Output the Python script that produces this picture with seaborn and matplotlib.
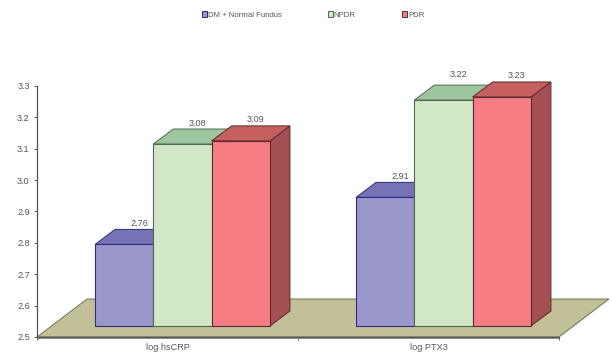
import matplotlib
matplotlib.use("Agg")
import matplotlib.pyplot as plt
from matplotlib.patches import Polygon
import pandas as pd
import seaborn as sns

categories = ["log hsCRP", "log PTX3"]
groups = ["DM + Normal Fundus", "NPDR", "PDR"]
hscrp_values = [2.76, 3.08, 3.09]
ptx3_values = [2.91, 3.22, 3.23]
y_ticks = [2.5, 2.6, 2.7, 2.8, 2.9, 3.0, 3.1, 3.2, 3.3]

front_colors = ["#9A97CB", "#D2E7C6", "#F57D83"]
top_colors = ["#7572B6", "#9DC59E", "#C6605F"]
side_colors = ["#5E5C96", "#7FA07F", "#A35052"]
edge_colors = ["#2C2C7C", "#4C6A4C", "#5C2A2C"]
floor_color = "#C2C096"
floor_edge = "#6F6E55"
text_color = "#555555"

W, H = 612, 357
DPI = 100
sns.set_theme(style="white")
plt.rcParams["font.family"] = ["Liberation Sans", "DejaVu Sans"]

frame = pd.DataFrame({
    "marker": categories[0:1] * 3 + categories[1:2] * 3,
    "group": groups * 2,
    "value": hscrp_values + ptx3_values,
})

fig = plt.figure(figsize=(W / DPI, H / DPI), dpi=DPI, facecolor="white")


def box(left, top, right, bottom):
    return [left / W, 1 - bottom / H, (right - left) / W, (bottom - top) / H]


# Value axis and floor plane
base = fig.add_axes(box(37, 86, 559, 337))
base.set_xlim(-0.5, 1.5)
base.set_ylim(y_ticks[0], y_ticks[-1])
base.set_facecolor("none")
for name in ("top", "right"):
    base.spines[name].set_visible(False)
for name in ("left", "bottom"):
    base.spines[name].set_color("#555555")
    base.spines[name].set_linewidth(0.9)
base.set_yticks(y_ticks)
base.set_yticklabels([f"{t:.1f}" for t in y_ticks], fontsize=6.6, color=text_color)
base.set_xticks([-0.5, 0.5, 1.5], minor=False)
base.set_xticklabels([])
base.tick_params(axis="both", length=2.2, width=0.7, color="#555555", pad=3,
                 left=True, bottom=True)
for pos, label in enumerate(categories):
    base.annotate(label, (pos, y_ticks[0]), xytext=(0, -10), textcoords="offset pixels",
                  ha="center", va="center", fontsize=6.6, color=text_color,
                  annotation_clip=False)

x0, x1 = base.get_xlim()
y0 = y_ticks[0]
floor_depth = (50, 38)
base_pts = base.transData.transform([(x0, y0), (x1, y0)])
floor_px = [
    tuple(base_pts[0]),
    tuple(base_pts[1]),
    (base_pts[1][0] + floor_depth[0], base_pts[1][1] + floor_depth[1]),
    (base_pts[0][0] + floor_depth[0], base_pts[0][1] + floor_depth[1]),
]
base.add_patch(Polygon(floor_px, closed=True, transform=None, facecolor=floor_color,
                       edgecolor=floor_edge, linewidth=0.7, clip_on=False, zorder=1))
base.plot([x0, x1], [y0, y0], color="#8E8D70", lw=2.0, clip_on=False, zorder=1.5,
          solid_capstyle="butt")

# Front plane of the bars, set forward on the floor
ax = fig.add_axes(box(52, 75, 574, 326))
ax.set_facecolor("none")
sns.barplot(data=frame, x="marker", y="value", hue="group", hue_order=groups,
            palette=front_colors, width=0.67, gap=0, saturation=1, ax=ax, zorder=3)
ax.set_xlim(-0.5, 1.5)
ax.set_ylim(y_ticks[0], y_ticks[-1])

sns.move_legend(ax, "center", bbox_to_anchor=(313 / W, 1 - 15 / H),
                bbox_transform=fig.transFigure, ncol=3, frameon=False, title=None,
                fontsize=5.6, handlelength=0.7, handleheight=0.7, handletextpad=0.1,
                columnspacing=5.9, labelcolor=text_color)
for handle, edge in zip(ax.get_legend().get_patches(), edge_colors):
    handle.set_edgecolor(edge)
    handle.set_linewidth(0.7)

# Extruded tops and sides, built from the bars seaborn placed
dx, dy = 20, 15
label_lift = {(1, 1): 26}
order = 3.0
for position in range(len(categories)):
    for k, container in enumerate(ax.containers):
        bar = sorted(container.patches, key=lambda p: p.get_x())[position]
        value = bar.get_height()
        left, right = bar.get_x(), bar.get_x() + bar.get_width()
        bar.set_y(y0)
        bar.set_height(value - y0)
        bar.set_edgecolor(edge_colors[k])
        bar.set_linewidth(0.8)
        bar.set_clip_on(False)
        bar.set_zorder(order + 0.2)

        corners = ax.transData.transform(
            [(left, value), (right, value), (right, y0)]
        )
        (xl, yt), (xr, _), (_, yb) = corners
        top = [(xl, yt), (xr, yt), (xr + dx, yt + dy), (xl + dx, yt + dy)]
        side = [(xr, yb), (xr, yt), (xr + dx, yt + dy), (xr + dx, yb + dy)]
        ax.add_patch(Polygon(side, closed=True, transform=None, facecolor=side_colors[k],
                             edgecolor=edge_colors[k], linewidth=0.7, clip_on=False,
                             zorder=order))
        ax.add_patch(Polygon(top, closed=True, transform=None, facecolor=top_colors[k],
                             edgecolor=edge_colors[k], linewidth=0.7, clip_on=False,
                             zorder=order + 0.1))
        lift = label_lift.get((position, k), 21)
        ax.annotate(f"{value:.2f}", ((left + right) / 2, value), xytext=(15, lift),
                    textcoords="offset pixels", ha="center", va="center", fontsize=6.6,
                    color=text_color, annotation_clip=False, zorder=9)
        order += 0.5

ax.axis("off")
fig.savefig("out.png", dpi=DPI, facecolor="white")
